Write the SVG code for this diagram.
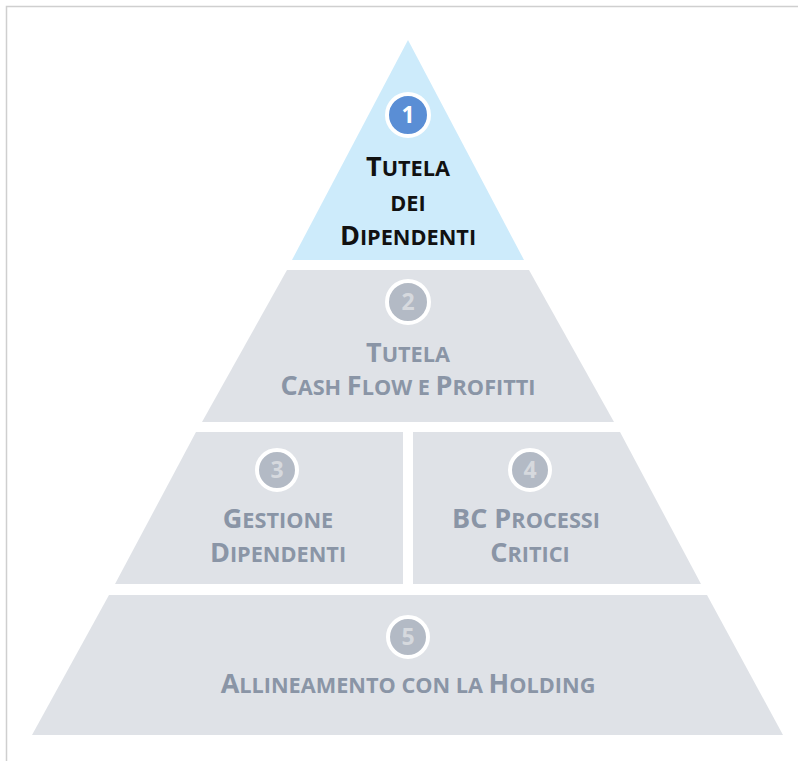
<svg xmlns="http://www.w3.org/2000/svg" width="798" height="761" viewBox="0 0 798 761">
<style>
.bg{fill:#ffffff}
.frame{fill:none;stroke:#cfcfcf;stroke-width:1.5}
.tier{fill:#dfe2e7}
.top{fill:#cdebfb}
.badge{stroke:#ffffff;stroke-width:4}
.b1{fill:#5a8ed5}
.bg2{fill:#b3bac5}
.num{font-family:"Open Sans","Noto Sans",sans-serif;font-weight:700;font-size:23px;text-anchor:middle}
.n1{fill:#ffffff}
.ng{fill:#d6d9de}
.lbl{font-family:"Open Sans","Noto Sans",sans-serif;font-weight:700;text-anchor:middle;font-size:21.7px}
.dark{fill:#111111}
.gray{fill:#8a95a6}
.big{font-size:27px}
</style>
<rect class="bg" x="0" y="0" width="798" height="761"/>
<rect class="frame" x="6.5" y="6.5" width="820" height="820"/>
<g id="connectors"></g>
<g id="tier1">
<polygon class="top" points="408,40 524,260 292,260"/>
<circle class="badge b1" cx="408" cy="115" r="21"/>
<text class="num n1" x="408" y="123">1</text>
<text class="lbl dark" x="408" y="176"><tspan class="big">T</tspan>UTELA</text>
<text class="lbl dark" x="408" y="211">DEI</text>
<text class="lbl dark" x="408" y="245"><tspan class="big">D</tspan>IPENDENTI</text>
</g>
<g id="tier2">
<polygon class="tier" points="287,270 529,270 614,422 202,422"/>
<circle class="badge bg2" cx="408" cy="302" r="21"/>
<text class="num ng" x="408" y="310">2</text>
<text class="lbl gray" x="408" y="362"><tspan class="big">T</tspan>UTELA</text>
<text class="lbl gray" x="408" y="395"><tspan class="big">C</tspan>ASH <tspan class="big">F</tspan>LOW E <tspan class="big">P</tspan>ROFITTI</text>
</g>
<g id="tier3">
<polygon class="tier" points="196,432 403,432 403,584 115,584"/>
<circle class="badge bg2" cx="277" cy="470" r="20"/>
<text class="num ng" x="277" y="478">3</text>
<text class="lbl gray" x="278" y="528"><tspan class="big">G</tspan>ESTIONE</text>
<text class="lbl gray" x="278" y="562"><tspan class="big">D</tspan>IPENDENTI</text>
</g>
<g id="tier4">
<polygon class="tier" points="413,432 620,432 701,584 413,584"/>
<circle class="badge bg2" cx="530" cy="470" r="20"/>
<text class="num ng" x="530" y="478">4</text>
<text class="lbl gray" x="526" y="528"><tspan class="big">BC P</tspan>ROCESSI</text>
<text class="lbl gray" x="530" y="562"><tspan class="big">C</tspan>RITICI</text>
</g>
<g id="tier5">
<polygon class="tier" points="109,595 707,595 783,735 32,735"/>
<circle class="badge bg2" cx="408" cy="637" r="20"/>
<text class="num ng" x="408" y="645">5</text>
<text class="lbl gray" x="408" y="693"><tspan class="big">A</tspan>LLINEAMENTO CON LA <tspan class="big">H</tspan>OLDING</text>
</g>
</svg>
